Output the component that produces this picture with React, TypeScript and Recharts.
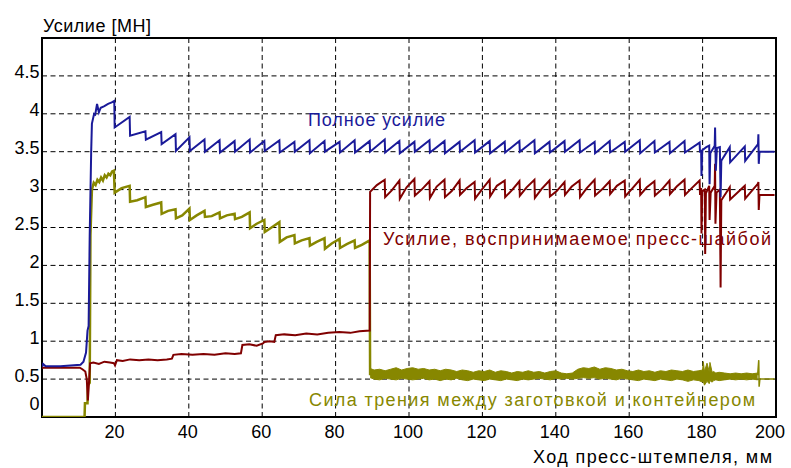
import React from 'react';
import { ComposedChart, Line, Area, XAxis, YAxis, CartesianGrid, ReferenceArea } from 'recharts';

const BLUE = '#1a1a99';
const RED = '#800000';
const OLIVE = '#878700';
const FONT = "'Liberation Sans', Arial, sans-serif";

const xTicks = [20, 40, 60, 80, 100, 120, 140, 160, 180, 200];
const yTicks = [0, 0.5, 1, 1.5, 2, 2.5, 3, 3.5, 4, 4.5];

// ram stroke (mm) at which each press cycle ends and the force drops
const cycleX = [
  19.8, 24.0, 28.3, 32.6, 36.5, 40.3, 44.4, 48.5, 52.6, 56.7,
  60.7, 64.8, 68.9, 73.0, 77.1, 81.2, 85.3, 89.4, 93.5, 97.5,
  101.6, 105.7, 109.8, 113.9, 118.0, 122.1, 126.2, 130.2, 134.3, 138.4,
  142.5, 146.6, 150.7, 154.8, 158.9, 163.0, 167.0, 171.1, 175.2, 179.3,
];

// total force (Полное усилие)
const totalHeadX = [0, 0.3, 1.0, 5.0, 10.5, 11.3, 12.0, 12.4, 12.7, 13.0, 13.4, 13.6, 14.2, 14.5, 15.0, 15.5, 16.0, 17.0, 18.0, 19.0, 19.7];
const totalHeadY = [0.66, 0.70, 0.67, 0.67, 0.69, 0.73, 0.85, 1.14, 1.20, 2.40, 3.50, 3.87, 4.00, 3.99, 4.13, 4.02, 4.08, 4.10, 4.13, 4.15, 4.17];
const totalLow = [
  3.82, 3.71, 3.66, 3.60, 3.51, 3.51, 3.50, 3.49, 3.50, 3.49,
  3.51, 3.49, 3.50, 3.48, 3.50, 3.49, 3.49, 3.50, 3.49, 3.48,
  3.50, 3.49, 3.48, 3.50, 3.49, 3.48, 3.49, 3.50, 3.48, 3.49,
  3.50, 3.49, 3.48, 3.49, 3.50, 3.48, 3.49, 3.48, 3.49,
];
const totalHigh = [
  3.96, 3.77, 3.76, 3.73, 3.69, 3.66, 3.65, 3.64, 3.66, 3.64,
  3.65, 3.63, 3.65, 3.64, 3.63, 3.65, 3.64, 3.66, 3.64, 3.63,
  3.65, 3.64, 3.63, 3.65, 3.64, 3.63, 3.64, 3.65, 3.63, 3.64,
  3.65, 3.63, 3.64, 3.63, 3.65, 3.64, 3.63, 3.64, 3.62,
];
const totalTailX = [179.3, 179.6, 179.7, 179.9, 181.0, 181.8, 181.9, 182.1, 183.3, 183.4, 183.6, 183.9, 184.7, 184.9, 185.1, 187.4, 187.5, 191.5, 191.6, 195.1, 195.2, 195.3, 195.5, 199.6];
const totalTailY = [3.49, 3.52, 3.18, 3.52, 3.56, 3.58, 3.07, 3.48, 3.58, 3.82, 3.25, 3.55, 3.56, 2.90, 3.38, 3.56, 3.36, 3.57, 3.38, 3.60, 3.73, 3.34, 3.50, 3.50];

// force taken by the dummy block (пресс-шайба)
const blockHeadX = [
  0, 10.3, 11.0, 11.8, 12.2, 12.5, 12.8, 13.1, 14.0, 15.5,
  17.0, 18.5, 19.6, 19.9, 20.4, 22.0, 24.0, 26.5, 29.0, 31.5,
  34.0, 35.4, 35.8, 38.0, 41.0, 44.0, 47.0, 50.0, 52.5, 54.2,
  54.6, 56.5, 58.5, 60.2, 60.6, 62.0, 63.3, 63.7, 66.0, 69.0,
  72.0, 75.0, 78.0, 81.0, 84.0, 86.5, 89.3,
];
const blockHeadY = [
  0.65, 0.65, 0.63, 0.60, 0.50, 0.22, 0.45, 0.71, 0.72, 0.70,
  0.73, 0.72, 0.71, 0.68, 0.75, 0.74, 0.76, 0.75, 0.76, 0.75,
  0.76, 0.77, 0.82, 0.83, 0.82, 0.83, 0.82, 0.84, 0.83, 0.84,
  0.95, 0.96, 0.94, 0.97, 0.99, 1.00, 0.99, 1.08, 1.09, 1.08,
  1.10, 1.09, 1.11, 1.12, 1.11, 1.13, 1.14,
];
const blockLow = [2.97, 2.90, 2.88, 2.92, 2.89, 2.90, 2.93, 2.88, 2.91, 2.90, 2.92, 2.89, 2.91, 2.93, 2.90, 2.92, 2.94, 2.91, 2.93, 2.92, 2.94, 2.93];
const blockMid = [3.06, 2.99, 3.03, 3.00, 3.04, 2.98, 3.02, 3.00, 3.05, 2.99, 3.03, 3.01, 2.98, 3.04, 3.02, 3.00, 3.05, 3.01, 3.03, 3.00, 3.04, 3.02];
const blockHigh = [3.13, 3.12, 3.14, 3.11, 3.13, 3.12, 3.10, 3.13, 3.12, 3.11, 3.13, 3.12, 3.10, 3.12, 3.13, 3.11, 3.12, 3.13, 3.11, 3.12, 3.13, 3.12];
const blockTailX = [179.3, 179.6, 179.7, 179.9, 180.6, 180.7, 180.9, 181.8, 181.9, 182.2, 183.3, 183.4, 183.5, 183.8, 184.7, 184.9, 185.1, 187.4, 187.5, 191.5, 191.6, 195.1, 195.2, 195.3, 195.5, 199.6];
const blockTailY = [2.93, 3.02, 2.42, 2.98, 3.00, 2.15, 2.95, 3.05, 2.60, 2.96, 3.05, 3.34, 2.55, 2.96, 3.00, 1.71, 2.86, 3.03, 2.87, 3.05, 2.88, 3.08, 3.10, 2.73, 2.93, 2.93];

// friction between billet and container
const frictionHeadX = [0, 11.6, 11.7, 12.4, 12.5, 13.0, 13.2, 13.6, 14.1, 14.6, 15.1, 15.6, 16.1, 16.6, 17.1, 17.6, 18.1, 18.6, 19.1, 19.6];
const frictionHeadY = [0, 0, 0.18, 0.18, 0.42, 0.45, 2.40, 3.00, 3.09, 3.06, 3.13, 3.10, 3.16, 3.12, 3.19, 3.16, 3.21, 3.19, 3.24, 3.25];
const frictionLow = [2.96, 2.84, 2.77, 2.68, 2.62, 2.60, 2.64, 2.62, 2.61, 2.49, 2.44, 2.31, 2.29, 2.26, 2.22, 2.23, 2.23];
const frictionMid = [3.02, 2.86, 2.80, 2.72, 2.66, 2.66, 2.65, 2.66, 2.64, 2.55, 2.50, 2.37, 2.33, 2.31, 2.29, 2.28, 2.27];
const frictionHigh = [3.05, 2.90, 2.83, 2.74, 2.75, 2.72, 2.70, 2.68, 2.70, 2.60, 2.57, 2.40, 2.36, 2.36, 2.35, 2.33, 2.33];
const frictionBandX = [
  89.4, 90.5, 92, 93.5, 95, 96.5, 98, 99.5, 101, 102.5,
  104, 105.5, 107, 108.5, 110, 111.5, 113, 114.5, 116, 117.5,
  119, 120.5, 122, 123.5, 125, 126.5, 128, 129.5, 131, 132.5,
  134, 135.5, 137, 138.5, 140, 141.5, 143, 144.5, 146, 147.5,
  149, 150.5, 152, 153.5, 155, 156.5, 158, 159.5, 161, 162.5,
  164, 165.5, 167, 168.5, 170, 171.5, 173, 174.5, 176, 177.5,
  179, 180.0, 180.2, 180.5, 181.2, 181.8, 182.0, 182.6, 183.0, 183.6,
  184.5, 186.0, 187.5, 189.0, 190.5, 192.0, 193.5, 195.0,
];
const frictionBandHi = [
  0.64, 0.62, 0.63, 0.61, 0.63, 0.65, 0.62, 0.64, 0.65, 0.63,
  0.64, 0.62, 0.63, 0.61, 0.63, 0.62, 0.60, 0.62, 0.61, 0.59,
  0.61, 0.60, 0.62, 0.59, 0.61, 0.60, 0.58, 0.60, 0.59, 0.61,
  0.59, 0.60, 0.58, 0.60, 0.61, 0.58, 0.57, 0.58, 0.63, 0.65,
  0.64, 0.66, 0.63, 0.65, 0.64, 0.62, 0.63, 0.61, 0.60, 0.62,
  0.60, 0.61, 0.59, 0.61, 0.60, 0.62, 0.61, 0.60, 0.62, 0.60,
  0.61, 0.62, 0.73, 0.60, 0.71, 0.60, 0.72, 0.59, 0.60, 0.58,
  0.59, 0.58, 0.57, 0.58, 0.57, 0.58, 0.57, 0.58,
];
const frictionBandLo = [
  0.52, 0.50, 0.49, 0.51, 0.50, 0.49, 0.51, 0.50, 0.49, 0.50,
  0.51, 0.49, 0.50, 0.48, 0.50, 0.49, 0.51, 0.49, 0.48, 0.50,
  0.49, 0.48, 0.50, 0.49, 0.48, 0.50, 0.49, 0.48, 0.50, 0.49,
  0.50, 0.51, 0.50, 0.49, 0.51, 0.50, 0.51, 0.50, 0.51, 0.52,
  0.51, 0.52, 0.50, 0.51, 0.50, 0.49, 0.51, 0.50, 0.49, 0.48,
  0.50, 0.49, 0.48, 0.50, 0.49, 0.48, 0.50, 0.49, 0.47, 0.49,
  0.48, 0.46, 0.47, 0.42, 0.47, 0.44, 0.48, 0.46, 0.48, 0.49,
  0.48, 0.49, 0.50, 0.49, 0.50, 0.49, 0.50, 0.49,
];
const frictionEndX = [195.0, 195.3, 195.4, 195.6, 199.6];
const frictionEndY = [0.55, 0.75, 0.40, 0.50, 0.50];

type Pt = { x: number; y: number };

const pts = (xs: number[], ys: number[]): Pt[] => xs.map((x, i) => ({ x, y: ys[i] }));

// one sawtooth per press cycle: low right after the drop, rising to high before the next drop
const teeth = (from: number, lows: number[], highs: number[], mids?: number[]): Pt[] => {
  const out: Pt[] = [];
  lows.forEach((lo, i) => {
    const a = cycleX[from + i];
    const b = cycleX[from + i + 1];
    out.push({ x: a, y: lo });
    if (mids) out.push({ x: a + (b - a) * 0.45, y: mids[i] });
    out.push({ x: b - 0.12, y: highs[i] });
  });
  return out;
};

const totalData = [...pts(totalHeadX, totalHeadY), ...teeth(0, totalLow, totalHigh), ...pts(totalTailX, totalTailY)];
const blockData = [...pts(blockHeadX, blockHeadY), ...teeth(17, blockLow, blockHigh, blockMid), ...pts(blockTailX, blockTailY)];
const frictionData = [...pts(frictionHeadX, frictionHeadY), ...teeth(0, frictionLow, frictionHigh, frictionMid), { x: cycleX[17], y: 0.55 }];
const frictionBand = frictionBandX.map((x, i) => ({ x, band: [frictionBandLo[i], frictionBandHi[i]] }));
const frictionEnd = pts(frictionEndX, frictionEndY);

const XTick = ({ x, y, payload }: any) => (
  <text x={x + (payload.value === 200 ? -6 : -1)} y={y + 21} textAnchor="middle" fontFamily={FONT} fontSize={18} fill="#000">
    {payload.value}
  </text>
);

const YTick = ({ x, y, payload }: any) => (
  <text x={x - 2.5} y={payload.value === 0 ? y - 7 : y + 2.5} textAnchor="end" fontFamily={FONT} fontSize={18} fill="#000">
    {payload.value}
  </text>
);

export default function App() {
  return (
    <div style={{ position: 'absolute', left: 0, top: 0, width: 791, height: 468, background: '#fff' }}>
      <ComposedChart width={791} height={468} margin={{ top: 38, right: 15, bottom: 0, left: 0 }}>
        <CartesianGrid stroke="#000" strokeDasharray="5 3.5" />
        <XAxis type="number" dataKey="x" domain={[0, 200]} ticks={xTicks} interval={0} height={51}
          axisLine={false} tickLine={false} tickSize={0} tickMargin={0} tick={XTick} allowDataOverflow />
        <YAxis type="number" domain={[0, 5]} ticks={yTicks} interval={0} width={42}
          axisLine={false} tickLine={false} tickSize={0} tickMargin={0} tick={YTick} allowDataOverflow />
        <Area data={frictionBand} dataKey="band" type="linear" stroke={OLIVE} strokeWidth={1} fill={OLIVE} fillOpacity={1} isAnimationActive={false} />
        <Line data={frictionEnd} dataKey="y" type="linear" stroke={OLIVE} strokeWidth={1.5} dot={false} isAnimationActive={false} />
        <Line data={frictionData} dataKey="y" type="linear" stroke={OLIVE} strokeWidth={2.5} dot={false} isAnimationActive={false} />
        <Line data={blockData} dataKey="y" type="linear" stroke={RED} strokeWidth={2} dot={false} isAnimationActive={false} />
        <Line data={totalData} dataKey="y" type="linear" stroke={BLUE} strokeWidth={2} dot={false} isAnimationActive={false} />
        <ReferenceArea x1={0} x2={200} y1={0} y2={5} fill="none" stroke="#000" strokeWidth={2} ifOverflow="visible" />
      </ComposedChart>
      <svg width={791} height={468} style={{ position: 'absolute', left: 0, top: 0, pointerEvents: 'none' }}>
        <g fontFamily={FONT} fontSize={18}>
          <text x={43} y={31.5} textLength={108} lengthAdjust="spacing" fill="#000">Усилие [МН]</text>
          <text x={308} y={126} textLength={137} lengthAdjust="spacing" fill={BLUE}>Полное усилие</text>
          <text x={383} y={245} textLength={388} lengthAdjust="spacing" fill={RED}>Усилие, воспринимаемое пресс-шайбой</text>
          <text x={309} y={406} textLength={446} lengthAdjust="spacing" fill={OLIVE}>Сила трения между заготовкой и контейнером</text>
          <text x={533} y={463} textLength={239} lengthAdjust="spacing" fill="#000">Ход пресс-штемпеля, мм</text>
        </g>
      </svg>
    </div>
  );
}
